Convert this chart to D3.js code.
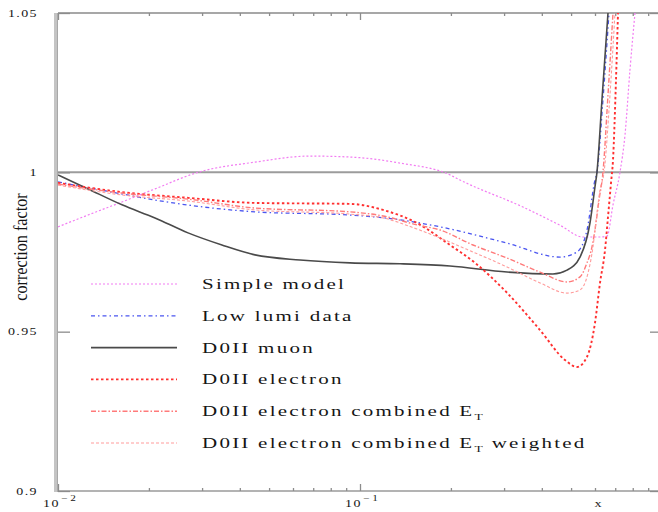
<!DOCTYPE html>
<html>
<head>
<meta charset="utf-8">
<script src="https://cdn.jsdelivr.net/npm/d3@7"></script>
<style>
  html, body { margin: 0; padding: 0; background: #fff; }
  svg { display: block; }
  text { font-family: "Liberation Serif", "DejaVu Serif", serif; fill: #151515; }
</style>
</head>
<body>
<svg id="chart" width="658" height="512"></svg>
<script>
// Correction factor versus x for several models / data sets
const yTicks = [0.9, 0.95, 1, 1.05];
const yTickLabels = ["0.9", "0.95", "1", "1.05"];
const xMajor = [0.01, 0.1];
const xMajorExp = ["\u22122", "\u22121"];
const xMinor = [0.02, 0.03, 0.04, 0.05, 0.06, 0.07, 0.08, 0.09,
                0.2, 0.3, 0.4, 0.5, 0.6, 0.7, 0.8, 0.9];

const simpleX = [0.01, 0.01257, 0.01629, 0.02095, 0.02908, 0.0449, 0.0683, 0.0927, 0.1357, 0.1986,
                 0.2143, 0.3465, 0.4595, 0.5474, 0.6233, 0.6575, 0.6883, 0.7258, 0.7541, 0.7834, 0.8138];
const simpleY = [0.9829, 0.9866, 0.9907, 0.9948, 1.0000, 1.0032, 1.0051, 1.0048, 1.0029, 0.9992,
                 0.9976, 0.9891, 0.9834, 0.9797, 0.9797, 0.9800, 0.9898, 1.0000, 1.0117, 1.0322, 1.0500];

const lowLumiX = [0.01, 0.01629, 0.02095, 0.0449, 0.0927, 0.1357, 0.1841, 0.3068, 0.4595,
                  0.5230, 0.5645, 0.5998, 0.609, 0.6375, 0.6676];
const lowLumiY = [0.9970, 0.9932, 0.9913, 0.9876, 0.9866, 0.9851, 0.9829, 0.9778, 0.9734,
                  0.9750, 0.9819, 0.9976, 1.0000, 1.0227, 1.0500];

const muonX = [0.01, 0.01257, 0.01629, 0.02095, 0.02695, 0.0349, 0.0449, 0.0633, 0.0927, 0.1357,
               0.1986, 0.3068, 0.4355, 0.4847, 0.5352, 0.5774, 0.5998, 0.609, 0.6327, 0.6625];
const muonY = [0.9992, 0.9948, 0.9898, 0.9857, 0.9810, 0.9772, 0.9741, 0.9725, 0.9716, 0.9713,
               0.9706, 0.9687, 0.9681, 0.9693, 0.9734, 0.9841, 0.9954, 1.0000, 1.0227, 1.0500];

const electronX = [0.01, 0.01629, 0.02695, 0.0449, 0.0927, 0.1192, 0.1544, 0.1986, 0.2403, 0.3068,
                   0.3945, 0.4774, 0.5230, 0.5645, 0.5998, 0.6233, 0.6476, 0.6625, 0.6779, 0.6883,
                   0.7041, 0.7150];
const electronY = [0.9967, 0.9938, 0.9920, 0.9904, 0.9901, 0.9882, 0.9841, 0.9772, 0.9716, 0.9622,
                   0.9505, 0.9411, 0.9389, 0.9421, 0.9527, 0.9653, 0.9756, 0.9860, 0.9967, 1.0039,
                   1.0290, 1.0500];

const combinedX = [0.01, 0.01629, 0.02695, 0.0449, 0.0927, 0.1192, 0.1544, 0.1841, 0.2367, 0.3068,
                   0.3945, 0.4847, 0.5352, 0.5645, 0.5863, 0.5998, 0.6186, 0.6375, 0.6625, 0.6883];
const combinedY = [0.9963, 0.9935, 0.9916, 0.9888, 0.9876, 0.9863, 0.9835, 0.9819, 0.9772, 0.9731,
                   0.9687, 0.9656, 0.9672, 0.9716, 0.9766, 0.9819, 0.9913, 1.0000, 1.0243, 1.0500];

const weightedX = [0.01, 0.01629, 0.02695, 0.0449, 0.0927, 0.1192, 0.1544, 0.1841, 0.2367, 0.3068,
                   0.3945, 0.4847, 0.5352, 0.5689, 0.5908, 0.609, 0.6233, 0.6427, 0.6727, 0.6987];
const weightedY = [0.9960, 0.9929, 0.9910, 0.9882, 0.9869, 0.9857, 0.9822, 0.9794, 0.9750, 0.9703,
                   0.9653, 0.9621, 0.9631, 0.9684, 0.9766, 0.9873, 0.9945, 1.0000, 1.0243, 1.0500];

const seriesNames = ["Simple model", "Low lumi data", "D0II muon", "D0II electron",
                     "D0II electron combined E", "D0II electron combined E"];
const seriesSuffix = ["", "", "", "", "", " weighted"];

const series = [
  { x: simpleX,   y: simpleY,   color: "#f27cf2", width: 1.2, dash: "2,2" },
  { x: lowLumiX,  y: lowLumiY,  color: "#4a55f0", width: 1.3, dash: "4,3,1.5,3" },
  { x: muonX,     y: muonY,     color: "#4a4a4a", width: 1.6, dash: null },
  { x: electronX, y: electronY, color: "#ff3030", width: 1.9, dash: "2.5,2.5" },
  { x: combinedX, y: combinedY, color: "#ff7a7a", width: 1.4, dash: "5,2,1.5,2" },
  { x: weightedX, y: weightedY, color: "#ff9c9c", width: 1.1, dash: "3,2" }
];
const hasSub = [false, false, false, false, true, true];

const svg = d3.select("#chart");
const plotLeft = 58, plotRight = 662, plotTop = 13, plotBottom = 491;

const xScale = d3.scaleLog().domain([0.01, 1]).range([plotLeft, plotRight]);
const yScale = d3.scaleLinear().domain([0.9, 1.05]).range([plotBottom, plotTop]);

svg.append("defs").append("clipPath").attr("id", "plotClip")
  .append("rect").attr("x", plotLeft).attr("y", plotTop)
  .attr("width", plotRight - plotLeft).attr("height", plotBottom - plotTop);

// frame lines
svg.append("line").attr("x1", plotLeft).attr("x2", plotRight)
  .attr("y1", yScale(1.05)).attr("y2", yScale(1.05))
  .attr("stroke", "#8a8a8a").attr("stroke-width", 1.5);
svg.append("line").attr("x1", plotLeft).attr("x2", plotRight)
  .attr("y1", yScale(0.9)).attr("y2", yScale(0.9))
  .attr("stroke", "#9a9a9a").attr("stroke-width", 1.3);
svg.append("line").attr("x1", plotLeft).attr("x2", plotRight)
  .attr("y1", yScale(1)).attr("y2", yScale(1))
  .attr("stroke", "#9c9c9c").attr("stroke-width", 2);

// ticks via d3 axes (all pointing into the plot)
function styleAxis(g) {
  g.select(".domain").remove();
  g.selectAll(".tick line").attr("stroke", "#8c8c8c").attr("stroke-width", 1.3);
  g.selectAll(".tick text").remove();
}
svg.append("g").attr("transform", `translate(${plotLeft},0)`)
  .call(d3.axisRight(yScale).tickValues(yTicks).tickSize(12).tickFormat("")).call(styleAxis);
svg.append("g").attr("transform", `translate(${plotRight},0)`)
  .call(d3.axisLeft(yScale).tickValues(yTicks).tickSize(12).tickFormat("")).call(styleAxis);
svg.append("g").attr("transform", `translate(0,${plotBottom})`)
  .call(d3.axisTop(xScale).tickValues(xMinor).tickSize(3).tickFormat("")).call(styleAxis);
svg.append("g").attr("transform", `translate(0,${plotBottom})`)
  .call(d3.axisTop(xScale).tickValues(xMajor).tickSize(7).tickFormat("")).call(styleAxis);
svg.append("g").attr("transform", `translate(0,${plotTop})`)
  .call(d3.axisBottom(xScale).tickValues(xMinor).tickSize(3).tickFormat("")).call(styleAxis);
svg.append("g").attr("transform", `translate(0,${plotTop})`)
  .call(d3.axisBottom(xScale).tickValues(xMajor).tickSize(7).tickFormat("")).call(styleAxis);

// thick left axis bar
svg.append("line").attr("x1", 56).attr("x2", 56).attr("y1", plotTop).attr("y2", plotBottom + 1)
  .attr("stroke", "#c4c4c4").attr("stroke-width", 4);
svg.append("line").attr("x1", 57.5).attr("x2", 57.5).attr("y1", plotTop).attr("y2", plotBottom + 1)
  .attr("stroke", "#a8a8a8").attr("stroke-width", 1);

// curves
const lineGen = d3.line()
  .x(d => xScale(d[0])).y(d => yScale(d[1]))
  .curve(d3.curveMonotoneX);

const plot = svg.append("g").attr("clip-path", "url(#plotClip)");
series.forEach(s => {
  const pts = s.x.map((v, i) => [v, s.y[i]]);
  plot.append("path").datum(pts)
    .attr("d", lineGen)
    .attr("fill", "none")
    .attr("stroke", s.color)
    .attr("stroke-width", s.width)
    .attr("stroke-dasharray", s.dash)
    .attr("stroke-linejoin", "round");
});

// y tick labels (wide serif figures)
svg.append("g").selectAll("text").data(yTicks).join("text")
  .attr("transform", d => `translate(38,${yScale(d) + 3.5}) scale(1.4,1)`)
  .attr("text-anchor", "end")
  .attr("font-size", 10).attr("letter-spacing", 1)
  .text((d, i) => yTickLabels[i]);

// x tick labels (10 with exponent)
xMajor.forEach((v, i) => {
  const t = svg.append("text")
    .attr("transform", `translate(${xScale(v) - 15},507) scale(1.4,1)`)
    .attr("font-size", 10).attr("letter-spacing", 1);
  t.append("tspan").text("10");
  t.append("tspan").attr("dy", -6).attr("font-size", 8).attr("dx", 1)
    .attr("letter-spacing", 2).text(xMajorExp[i]);
});

svg.append("text").attr("transform", "translate(598,507) scale(1.3,1)")
  .attr("text-anchor", "middle").attr("font-size", 11).text("x");

svg.append("text")
  .attr("transform", "translate(27,247) rotate(-90) scale(0.9,1)")
  .attr("text-anchor", "middle").attr("font-size", 18)
  .text("correction factor");

// legend
const legendY = d3.scaleLinear().domain([0, 5]).range([284, 443]);
const legend = svg.append("g");
series.forEach((s, i) => {
  const y = legendY(i);
  legend.append("line").attr("x1", 91).attr("x2", 177).attr("y1", y).attr("y2", y)
    .attr("stroke", s.color).attr("stroke-width", s.width)
    .attr("stroke-dasharray", s.dash);
  const t = legend.append("text")
    .attr("transform", `translate(202,${y + 5}) scale(1.5,1)`)
    .attr("font-size", 14).attr("letter-spacing", 1.5);
  t.append("tspan").text(seriesNames[i]);
  if (hasSub[i]) {
    t.append("tspan").attr("font-size", 9).attr("dy", 4).attr("letter-spacing", 1).text("T");
    t.append("tspan").attr("dy", -4).text(seriesSuffix[i]);
  }
});
</script>
</body>
</html>
